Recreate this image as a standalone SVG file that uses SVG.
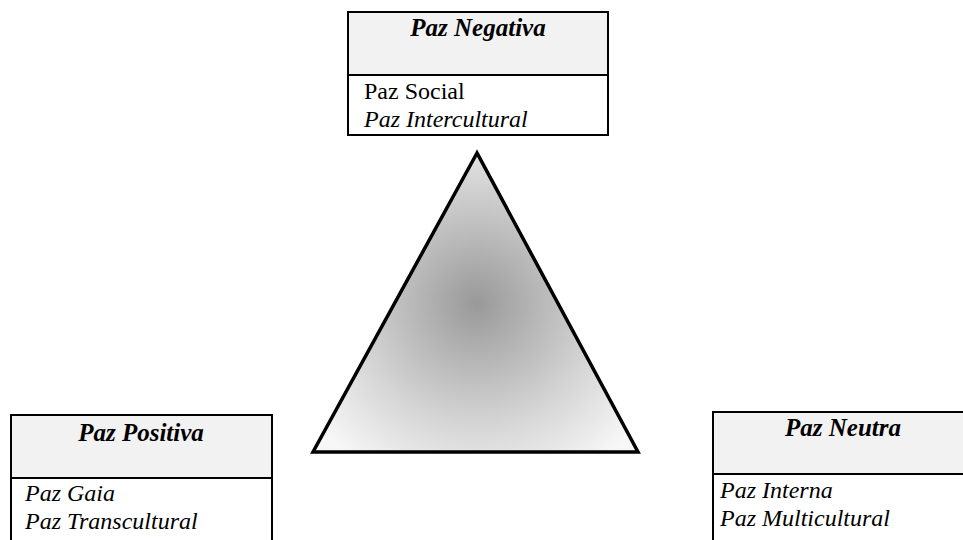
<svg xmlns="http://www.w3.org/2000/svg" width="963" height="540" viewBox="0 0 963 540">
<defs>
<radialGradient id="g" gradientUnits="userSpaceOnUse" cx="477" cy="303" r="200">
<stop offset="0" stop-color="#999999"/>
<stop offset="0.6" stop-color="#d4d4d4"/>
<stop offset="1" stop-color="#f7f7f7"/>
</radialGradient>
<style>
.hdr{fill:#f2f2f2;stroke:none}
.box{fill:none;stroke:#000;stroke-width:2}
text{font-family:'Liberation Serif','Times New Roman',Times,'DejaVu Serif',serif;font-size:24px;fill:#000}
.h{font-weight:bold;font-style:italic;text-anchor:middle;font-size:25px}
.i{font-style:italic}
</style>
</defs>
<rect width="963" height="540" fill="#fff"/>
<g id="triangle">
<polygon points="477,153 313,452 638,452" fill="url(#g)" stroke="#000" stroke-width="3.5" stroke-linejoin="miter"/>
</g>
<g id="negativa">
<rect class="hdr" x="348" y="12" width="260" height="63"/>
<rect class="box" x="348" y="12" width="260" height="123"/>
<line x1="348" y1="75" x2="608" y2="75" stroke="#000" stroke-width="2"/>
<text class="h" x="478" y="36">Paz Negativa</text>
<text x="364" y="99">Paz Social</text>
<text class="i" x="364" y="127">Paz Intercultural</text>
</g>
<g id="positiva">
<rect class="hdr" x="11" y="415" width="261" height="63"/>
<rect class="box" x="11" y="415" width="261" height="140"/>
<line x1="11" y1="478" x2="272" y2="478" stroke="#000" stroke-width="2"/>
<text class="h" x="141" y="441">Paz Positiva</text>
<text class="i" x="25" y="501">Paz Gaia</text>
<text class="i" x="25" y="529">Paz Transcultural</text>
</g>
<g id="neutra">
<rect class="hdr" x="713" y="412" width="260" height="62"/>
<rect class="box" x="713" y="412" width="260" height="140"/>
<line x1="713" y1="474" x2="973" y2="474" stroke="#000" stroke-width="2"/>
<text class="h" x="843" y="436">Paz Neutra</text>
<text class="i" x="720" y="498">Paz Interna</text>
<text class="i" x="720" y="526">Paz Multicultural</text>
</g>
<g id="connectors"/>
</svg>
